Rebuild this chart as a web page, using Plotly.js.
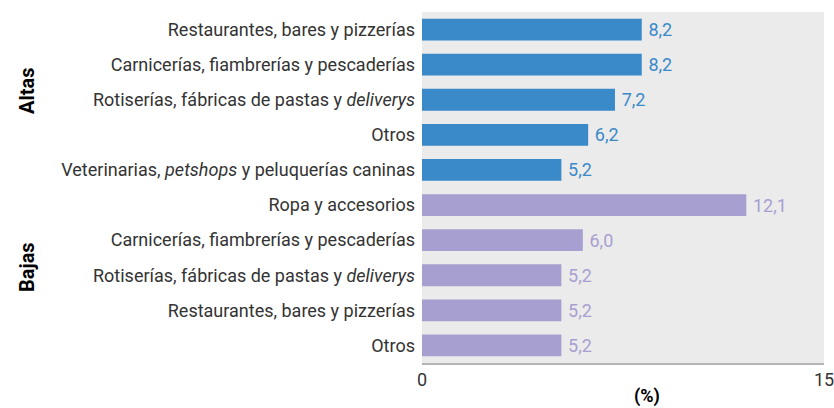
<!DOCTYPE html>
<html><head><meta charset="utf-8">
<script src="https://cdn.plot.ly/plotly-3.0.1.min.js"></script>
<style>body{margin:0;background:#fff}#c{width:834px;height:408px}</style>
</head><body><div id="c"></div>
<script>
const altasLabels = ["Restaurantes, bares y pizzerías","Carnicerías, fiambrerías y pescaderías","Rotiserías, fábricas de pastas y <i>deliverys</i>","Otros","Veterinarias, <i>petshops</i> y peluquerías caninas"];
const altasValues = [8.2, 8.2, 7.2, 6.2, 5.2];
const bajasLabels = ["Ropa y accesorios","Carnicerías, fiambrerías y pescaderías","Rotiserías, fábricas de pastas y <i>deliverys</i>","Restaurantes, bares y pizzerías","Otros"];
const bajasValues = [12.1, 6.0, 5.2, 5.2, 5.2];
const groupNames = ["Altas","Bajas"];
const xTicks = [0, 15];

const altasKeys = altasLabels.map((_, i) => "a" + i);
const bajasKeys = bajasLabels.map((_, i) => "b" + i);
const allKeys = altasKeys.concat(bajasKeys);
const allLabels = altasLabels.concat(bajasLabels);
const fmt = v => "\u2009" + v.toFixed(1).replace(".", ",");

const FONT = "Roboto, Liberation Sans, sans-serif";
const blue = "#3a89c9", purple = "#a89fd1";
const traces = [
  {type:"bar", orientation:"h", y:altasKeys, x:altasValues, marker:{color:blue},
   text:altasValues.map(fmt), textposition:"outside", cliponaxis:false,
   textfont:{color:blue, size:18, family:FONT}, width:0.62, hoverinfo:"none"},
  {type:"bar", orientation:"h", y:bajasKeys, x:bajasValues, marker:{color:purple},
   text:bajasValues.map(fmt), textposition:"outside", cliponaxis:false,
   textfont:{color:purple, size:18, family:FONT}, width:0.62, hoverinfo:"none"}
];
const layout = {
  width:834, height:408, showlegend:false,
  margin:{l:422, r:10, t:12, b:45},
  paper_bgcolor:"#ffffff", plot_bgcolor:"#ebebeb",
  font:{family:FONT, size:18, color:"#333"},
  barmode:"overlay",
  xaxis:{range:[0,15], tickvals:xTicks, ticktext:xTicks.map(String), showgrid:false, zeroline:false,
         showline:true, linecolor:"#b5b5b5", linewidth:1.5, ticks:"", ticklabeloverflow:"allow",
         tickfont:{size:18, color:"#333"}},
  yaxis:{type:"category", categoryorder:"array", categoryarray:allKeys, autorange:"reversed",
         tickvals:allKeys, ticktext:allLabels, showgrid:false, zeroline:false, ticks:"",
         ticklabelstandoff:6, tickfont:{size:18, color:"#333"}},
  annotations:[
    {text:"<b>"+groupNames[0]+"</b>", xref:"paper", yref:"paper", x:0, y:0, xanchor:"center", yanchor:"middle", showarrow:false, textangle:-90, font:{size:20, color:"#000"}},
    {text:"<b>"+groupNames[1]+"</b>", xref:"paper", yref:"paper", x:0, y:0, xanchor:"center", yanchor:"middle", showarrow:false, textangle:-90, font:{size:20, color:"#000"}},
    {text:"<b>(%)</b>", xref:"paper", yref:"paper", x:0, y:0, xanchor:"center", yanchor:"middle", showarrow:false, font:{size:18, color:"#000"}}
  ]
};
layout.annotations[0].x = (27-422)/402;
layout.annotations[1].x = (27-422)/402;
layout.annotations[0].y = 1 - (91-12)/351;
layout.annotations[1].y = 1 - (267-12)/351;
layout.annotations[2].x = (647-422)/402;
layout.annotations[2].y = -(396-363)/351;
Plotly.newPlot("c", traces, layout, {displayModeBar:false, staticPlot:true});
</script></body></html>
